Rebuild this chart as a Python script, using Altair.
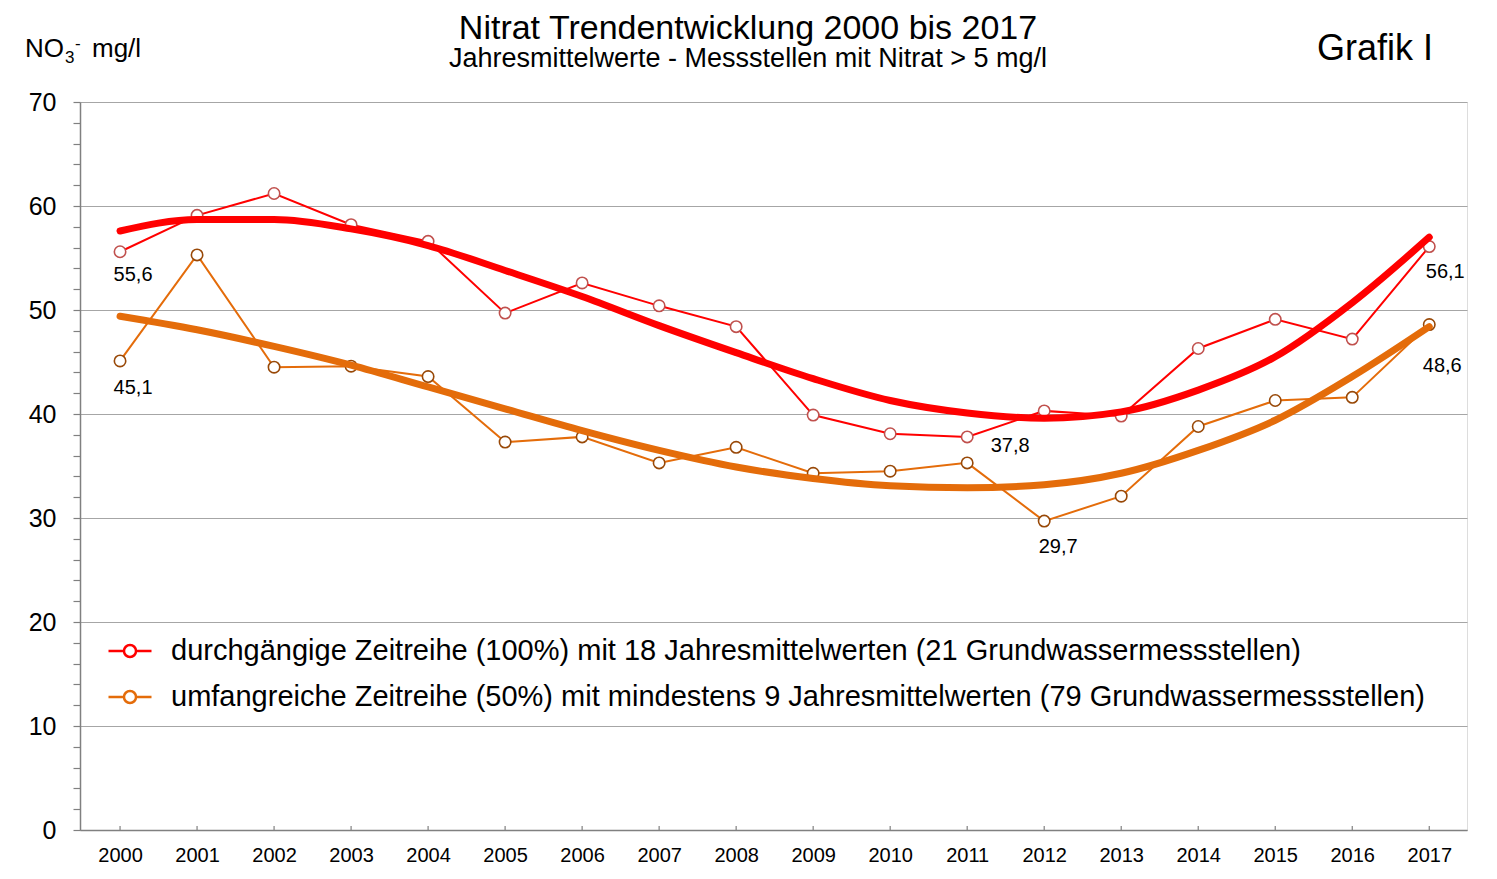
import altair as alt
import pandas as pd

years = list(range(2000, 2018))
red_values = [55.6, 59.1, 61.2, 58.2, 56.6, 49.7, 52.6, 50.4, 48.4, 39.9, 38.1, 37.8,
              40.3, 39.8, 46.3, 49.1, 47.2, 56.1]
orange_values = [45.1, 55.3, 44.5, 44.6, 43.6, 37.3, 37.8, 35.3, 36.8, 34.3, 34.5, 35.3,
                 29.7, 32.1, 38.8, 41.3, 41.6, 48.6]
red_trend = [57.6, 58.7, 58.7, 57.8, 56.2, 53.8, 51.3, 48.5, 45.9, 43.4, 41.3, 40.1,
             39.6, 40.2, 42.3, 45.5, 50.7, 57.0]
orange_trend = [49.4, 48.1, 46.5, 44.7, 42.6, 40.5, 38.4, 36.5, 34.9, 33.8, 33.1, 32.9,
                33.2, 34.3, 36.5, 39.4, 43.6, 48.4]

s_red = "durchgängige Zeitreihe (100%) mit 18 Jahresmittelwerten (21 Grundwassermessstellen)"
s_orange = "umfangreiche Zeitreihe (50%) mit mindestens 9 Jahresmittelwerten (79 Grundwassermessstellen)"
series_names = [s_red, s_orange]
line_colors = ["#ff0000", "#e46c0a"]
point_colors = ["#c0504d", "#984807"]

title_text = "Nitrat Trendentwicklung 2000 bis 2017"
subtitle_text = "Jahresmittelwerte - Messstellen mit Nitrat > 5 mg/l"

FONT = "Liberation Sans"

obs = pd.DataFrame({
    "year": years * 2,
    "value": red_values + orange_values,
    "series": [s_red] * len(years) + [s_orange] * len(years),
})
obs["label"] = obs["value"].map(lambda v: f"{v:.1f}".replace(".", ","))
trend = pd.DataFrame({
    "year": years * 2,
    "value": red_trend + orange_trend,
    "series": [s_red] * len(years) + [s_orange] * len(years),
})

W, H = 1387, 728

x_scale = alt.Scale(domain=[1999.48, 2017.49], nice=False, zero=False)
y_scale = alt.Scale(domain=[0, 70], nice=False)

x_axis = alt.Axis(values=years, format="d", title=None, grid=False, ticks=False, tickSize=0,
                  labelFontSize=20, labelPadding=15, labelColor="black", labelFont=FONT,
                  domainColor="#808080", domainWidth=1.5, labelOverlap=False)
y_axis = alt.Axis(values=list(range(0, 71, 2)), tickCount=40, labelOverlap=False,
                  labelExpr="datum.value % 10 == 0 ? datum.label : ''",
                  gridOpacity={"condition": {"test": "datum.value % 10 == 0", "value": 1}, "value": 0},
                  gridColor="#a6a6a6", gridWidth=1.2,
                  tickSize=7, tickColor="#808080", tickWidth=1.2,
                  labelFontSize=25, labelPadding=17, labelColor="black", labelFont=FONT,
                  domainColor="#808080", domainWidth=1.5, title=None)

legend = alt.Legend(
    orient="none", legendX=27, legendY=526, title=None, padding=0,
    symbolType="M-1,0L-0.28,0M0.28,0L1,0M0.28,0A0.28,0.28,0,1,1,-0.28,0A0.28,0.28,0,1,1,0.28,0",
    symbolSize=1849, symbolStrokeWidth=2.5, symbolFillColor="white",
    labelFontSize=29, labelFont=FONT, labelColor="black", labelOffset=18, labelLimit=0,
    rowPadding=8,
)
stroke_enc = alt.Stroke("series:N", scale=alt.Scale(domain=series_names, range=line_colors),
                        legend=legend, sort=series_names)

x_enc = alt.X("year:Q", scale=x_scale, axis=x_axis)
y_enc = alt.Y("value:Q", scale=y_scale, axis=y_axis)

data_lines = alt.Chart(obs).mark_line(strokeWidth=2).encode(
    x=x_enc, y=y_enc, stroke=stroke_enc, detail="series:N")

points = alt.Chart(obs).mark_point(filled=False, fill="white", fillOpacity=1, size=130,
                                   strokeWidth=1.6, opacity=1).encode(
    x=alt.X("year:Q", scale=x_scale), y=alt.Y("value:Q", scale=y_scale),
    color=alt.Color("series:N", scale=alt.Scale(domain=series_names, range=point_colors), legend=None))

trend_lines = alt.Chart(trend).mark_line(strokeWidth=7, interpolate="monotone", strokeCap="round").encode(
    x=alt.X("year:Q", scale=x_scale), y=alt.Y("value:Q", scale=y_scale),
    stroke=stroke_enc, detail="series:N")

# inward x-axis ticks
xticks = alt.Chart(pd.DataFrame({"year": years})).mark_rule(color="#808080", strokeWidth=1.2).encode(
    x=alt.X("year:Q", scale=x_scale), y=alt.value(H), y2=alt.value(H - 4))


def value_label(series, year, dx, dy):
    return alt.Chart(obs).transform_filter(
        (alt.datum.series == series) & (alt.datum.year == year)
    ).mark_text(fontSize=20, font=FONT, color="black", align="center", baseline="middle",
                dx=dx, dy=dy).encode(
        x=alt.X("year:Q", scale=x_scale), y=alt.Y("value:Q", scale=y_scale), text="label:N")


labels = [
    value_label(s_red, 2000, 13, 23),
    value_label(s_orange, 2000, 13, 27),
    value_label(s_red, 2011, 43, 9),
    value_label(s_orange, 2012, 14, 26),
    value_label(s_red, 2017, 16, 25),
    value_label(s_orange, 2017, 13, 41),
]

one = pd.DataFrame({"k": [0]})


def annot(text, x, y, size, align="left"):
    return alt.Chart(one).mark_text(
        text=text, fontSize=size, font=FONT, color="black", align=align,
        baseline="alphabetic").encode(x=alt.value(x), y=alt.value(y))


texts = [
    annot(title_text, 668, -63, 34, "center"),
    annot(subtitle_text, 668, -35, 27, "center"),
    annot("Grafik I", 1237, -42, 36),
    annot("NO", -55, -45, 26),
    annot("3", -15, -39, 17),
    annot("-", -5, -53, 17),
    annot("mg/l", 12, -45, 26),
]

chart = alt.layer(xticks, data_lines, points, trend_lines, *labels, *texts).properties(
    width=W, height=H,
    autosize=alt.AutoSizeParams(type="none"),
    padding={"left": 72, "top": 94, "right": 20, "bottom": 40},
).configure_view(stroke="#8c8c8c", strokeWidth=1.5).configure(background="white")

chart.save("out.html", embed_options={"renderer": "svg", "actions": False})
